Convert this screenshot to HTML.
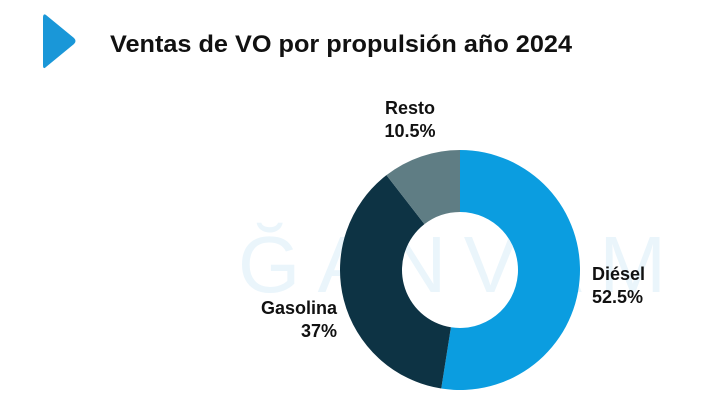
<!DOCTYPE html>
<html><head><meta charset="utf-8"><style>
body{margin:0;width:720px;height:405px;background:#fff;overflow:hidden;font-family:"Liberation Sans",sans-serif}
</style></head><body>
<svg width="720" height="405">
<path d="M46,15 Q43,13 43,18 L43,65 Q43,70 46,67 L74,44 Q77,41 74,38 Z" fill="#1a97d8"/>
<text x="110" y="52" font-size="24" font-weight="bold" fill="#111" textLength="462" lengthAdjust="spacingAndGlyphs">Ventas de VO por propulsión año 2024</text>
<text x="238" y="292" font-size="80" fill="#eaf5fb" textLength="428" lengthAdjust="spacing">ĞANVAM</text>
<g id="donut"></g>
<g id="labels"></g>
</svg>
<script>
const categories=["Diésel","Gasolina","Resto"];
const values=[52.5,37,10.5];
const printed=["52.5%","37%","10.5%"];
const colors=["#0b9de0","#0d3344","#5f7d84"];
const cx=460,cy=270,R=120,r=58;
const g=document.getElementById('donut'),lg=document.getElementById('labels');
const total=values.reduce((a,b)=>a+b,0);
let a0=0;
const pt=(a,rad)=>[cx+rad*Math.sin(a),cy-rad*Math.cos(a)];
const labelPos=[[592,280,"start"],[337,314,"end"],[410,114,"middle"]];
values.forEach((v,i)=>{
  const a1=a0+v/total*2*Math.PI;
  const large=(a1-a0)>Math.PI?1:0;
  const [x0,y0]=pt(a0,R),[x1,y1]=pt(a1,R),[x2,y2]=pt(a1,r),[x3,y3]=pt(a0,r);
  const p=document.createElementNS('http://www.w3.org/2000/svg','path');
  p.setAttribute('d',`M${x0},${y0}A${R},${R} 0 ${large} 1 ${x1},${y1}L${x2},${y2}A${r},${r} 0 ${large} 0 ${x3},${y3}Z`);
  p.setAttribute('fill',colors[i]);
  
  
  g.appendChild(p);
  const [lx,ly,anc]=labelPos[i];
  const t=document.createElementNS('http://www.w3.org/2000/svg','text');
  t.setAttribute('x',lx);t.setAttribute('y',ly);t.setAttribute('text-anchor',anc);
  t.setAttribute('font-size','18');t.setAttribute('font-weight','bold');t.setAttribute('fill','#111');
  
  
  const s1=document.createElementNS('http://www.w3.org/2000/svg','tspan');
  s1.setAttribute('x',lx);s1.textContent=categories[i];
  const s2=document.createElementNS('http://www.w3.org/2000/svg','tspan');
  s2.setAttribute('x',lx);s2.setAttribute('dy','23');s2.textContent=printed[i];
  t.appendChild(s1);t.appendChild(s2);lg.appendChild(t);
  a0=a1;
});
</script>
</body></html>
